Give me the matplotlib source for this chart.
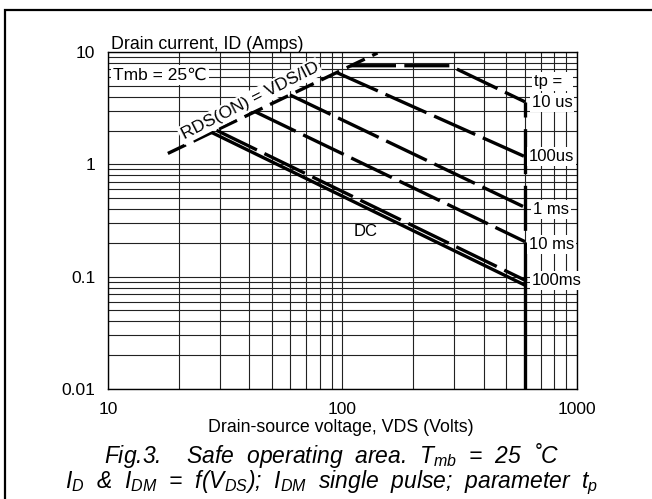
import matplotlib
matplotlib.use("Agg")
import matplotlib.pyplot as plt
from matplotlib.patches import Rectangle
from matplotlib.ticker import LogLocator, NullFormatter, FixedLocator, FixedFormatter

plt.rcParams['font.family'] = ['Liberation Sans', 'DejaVu Sans']
plt.rcParams['mathtext.fontset'] = 'custom'
plt.rcParams['mathtext.it'] = 'Liberation Sans:italic'
plt.rcParams['mathtext.rm'] = 'Liberation Sans:italic'

# To keep the curve data (VDS in volts, ID in amps)
rds_v = [18, 141]
rds_i = [1.25, 9.8]
us10_v = [108.7, 287, 600]
us10_i = [7.55, 7.55, 3.6]
us100_v = [94.5, 600]
us100_i = [6.56, 1.17]
ms1_v = [59.7, 600]
ms1_i = [4.15, 0.414]
ms10_v = [42.4, 600]
ms10_i = [2.94, 0.205]
ms100_v = [29, 600]
ms100_i = [2.01, 0.093]
dc_v = [27.7, 600]
dc_i = [1.92, 0.084]
vmax_dash_i = [3.6, 0.093]
vmax_solid_i = [0.093, 0.01]
v_max = 600

x_ticks = [10, 100, 1000]
x_labels = ['10', '100', '1000']
y_ticks = [0.01, 0.1, 1, 10]
y_labels = ['0.01', '0.1', '1', '10']

fig = plt.figure(figsize=(6.52, 4.99), dpi=100)
ax = fig.add_axes([108 / 652, 110 / 499, 469 / 652, 337 / 499])
ax.set_xscale('log')
ax.set_yscale('log')
ax.set_xlim(10, 1000)
ax.set_ylim(0.01, 10)

# To draw the log grid
ax.xaxis.set_major_locator(FixedLocator(x_ticks))
ax.xaxis.set_major_formatter(FixedFormatter(x_labels))
ax.yaxis.set_major_locator(FixedLocator(y_ticks))
ax.yaxis.set_major_formatter(FixedFormatter(y_labels))
ax.xaxis.set_minor_locator(LogLocator(base=10, subs=range(2, 10)))
ax.yaxis.set_minor_locator(LogLocator(base=10, subs=range(2, 10)))
ax.xaxis.set_minor_formatter(NullFormatter())
ax.yaxis.set_minor_formatter(NullFormatter())
ax.grid(True, which='both', color='#222222', linewidth=0.8)
ax.tick_params(which='both', length=0, labelsize=12.5, pad=9)
for s in ax.spines.values():
    s.set_linewidth(1.0)
ax.set_axisbelow(True)

lw = 2.4
dash = (0, (13.5, 2.5))
ax.plot(rds_v, rds_i, color='black', lw=lw, linestyle=(0, (6, 2.5)), solid_capstyle='butt')
ax.plot(us10_v, us10_i, color='black', lw=lw, linestyle=dash)
ax.plot(us100_v, us100_i, color='black', lw=lw, linestyle=dash)
ax.plot(ms1_v, ms1_i, color='black', lw=lw, linestyle=dash)
ax.plot(ms10_v, ms10_i, color='black', lw=lw, linestyle=dash)
ax.plot(ms100_v, ms100_i, color='black', lw=lw, linestyle=dash)
ax.plot(dc_v, dc_i, color='black', lw=lw)
ax.plot([v_max, v_max], vmax_dash_i, color='black', lw=lw, linestyle=(9, (13.5, 3.5)))
ax.plot([v_max, v_max], vmax_solid_i, color='black', lw=lw)

# To label the curves
box = dict(facecolor='white', edgecolor='none', pad=1.5)
fs = 12
ax.text(10.5, 6.24, 'Tmb = 25℃', fontsize=12.5, va='center', ha='left', bbox=box)
ax.text(40.3, 3.66, 'RDS(ON) = VDS/ID', fontsize=12.5, va='center', ha='center',
        rotation=27, rotation_mode='anchor', bbox=box)
ax.text(655, 5.44, 'tp =  ', fontsize=fs, va='center', ha='left', bbox=box)
ax.text(641, 3.54, '10 us', fontsize=fs, va='center', ha='left', bbox=box)
ax.text(624, 1.169, '100us', fontsize=fs, va='center', ha='left', bbox=box)
ax.text(650, 0.40, '1 ms', fontsize=fs, va='center', ha='left', bbox=box)
ax.text(624, 0.195, '10 ms', fontsize=fs, va='center', ha='left', bbox=box)
ax.text(641, 0.092, '100ms', fontsize=fs, va='center', ha='left', bbox=box)
ax.text(112, 0.251, 'DC', fontsize=fs, va='center', ha='left')

fig.text(111 / 652, 1 - 49 / 499, 'Drain current, ID (Amps)', fontsize=12.8, ha='left', va='baseline')
fig.text(341 / 652, 1 - 432 / 499, 'Drain-source voltage, VDS (Volts)', fontsize=12.8, ha='center', va='baseline')

# To add the caption
cap = 16.5
fig.text(332 / 652, 1 - 463 / 499, 'Fig.3.    Safe  operating  area.  $T_{mb}$  =  25  ˚C',
         fontsize=cap, style='italic', ha='center', va='baseline')
fig.text(332 / 652, 1 - 488 / 499, '$I_D$  &  $I_{DM}$  =  f($V_{DS}$);  $I_{DM}$  single  pulse;  parameter  $t_p$',
         fontsize=cap, style='italic', ha='center', va='baseline')

# To draw the frame round the figure
fig.patches.append(Rectangle((5 / 652, -0.1), 1.2, 1.1 - 10 / 499, fill=False, lw=1.6,
                             edgecolor='black', transform=fig.transFigure, clip_on=False))

fig.savefig('out.png', dpi=100)
